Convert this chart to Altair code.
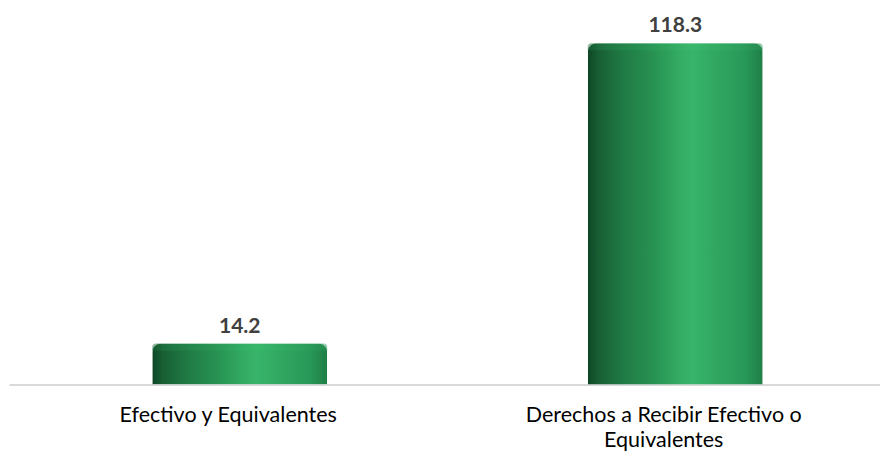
import altair as alt
import pandas as pd

categories = ["Efectivo y Equivalentes", "Derechos a Recibir Efectivo o Equivalentes"]
values = [14.2, 118.3]
value_labels = ["14.2", "118.3"]

df = pd.DataFrame({"cat": categories, "val": values, "lab": value_labels})

W, H = 871, 376.5

xscale = alt.Scale(domain=categories, paddingInner=0, paddingOuter=0)
yscale = alt.Scale(domain=[0, 130.5], nice=False, zero=True)

body_gradient = alt.Gradient(
    gradient="linear",
    x1=0, x2=1, y1=0, y2=0,
    stops=[
        alt.GradientStop(color="#0e4625", offset=0.0),
        alt.GradientStop(color="#185f34", offset=0.06),
        alt.GradientStop(color="#1f7a44", offset=0.2),
        alt.GradientStop(color="#289353", offset=0.38),
        alt.GradientStop(color="#33ab63", offset=0.52),
        alt.GradientStop(color="#38b56a", offset=0.6),
        alt.GradientStop(color="#30a661", offset=0.74),
        alt.GradientStop(color="#289858", offset=0.9),
        alt.GradientStop(color="#1f7f47", offset=1.0),
    ],
)

cap_gradient = alt.Gradient(
    gradient="linear",
    x1=0, x2=1, y1=0, y2=0,
    stops=[
        alt.GradientStop(color="#1a6a3b", offset=0.0),
        alt.GradientStop(color="#23844a", offset=0.1),
        alt.GradientStop(color="#2c9d5a", offset=0.35),
        alt.GradientStop(color="#3abb6d", offset=0.58),
        alt.GradientStop(color="#33ac64", offset=0.8),
        alt.GradientStop(color="#289556", offset=1.0),
    ],
)

base = alt.Chart(df)

bars = base.mark_bar(
    size=175, color=body_gradient, cornerRadiusTopLeft=9, cornerRadiusTopRight=9, xOffset=13
).encode(
    x=alt.X("cat:N", scale=xscale, sort=categories,
            axis=alt.Axis(title=None, domain=True, domainColor="#d9d9d9", domainWidth=2,
                          ticks=False, labelAngle=0, labelOffset=1.5,
                          labelFont="Lato", labelFontSize=21.5, labelColor="#000000",
                          labelBaseline="alphabetic", labelPadding=36.5,
                          labelLineHeight=25, labelLimit=0,
                          labelExpr="datum.label == 'Derechos a Recibir Efectivo o Equivalentes' ? ['Derechos a Recibir Efectivo o', 'Equivalentes'] : datum.label")),
    y=alt.Y("val:Q", scale=yscale, axis=None),
)

cap = base.mark_bar(
    size=175, color=cap_gradient, cornerRadiusTopLeft=9, cornerRadiusTopRight=9,
    xOffset=13, y2Offset=7, opacity=0.5,
).encode(
    x=alt.X("cat:N", sort=categories),
    y=alt.Y("val:Q"),
    y2=alt.Y2("val"),
)

text = base.mark_text(
    font="Lato", fontSize=21, fontWeight="bold", color="#404040",
    baseline="alphabetic", dy=-11, xOffset=13,
).encode(
    x=alt.X("cat:N", sort=categories),
    y=alt.Y("val:Q"),
    text="lab:N",
)

chart = alt.layer(bars, cap, text).properties(
    width=W, height=H,
    padding={"left": 1, "top": 0, "right": 0, "bottom": 0},
).configure_view(stroke=None)

chart.save("out.html", embed_options={"renderer": "svg", "actions": False})
